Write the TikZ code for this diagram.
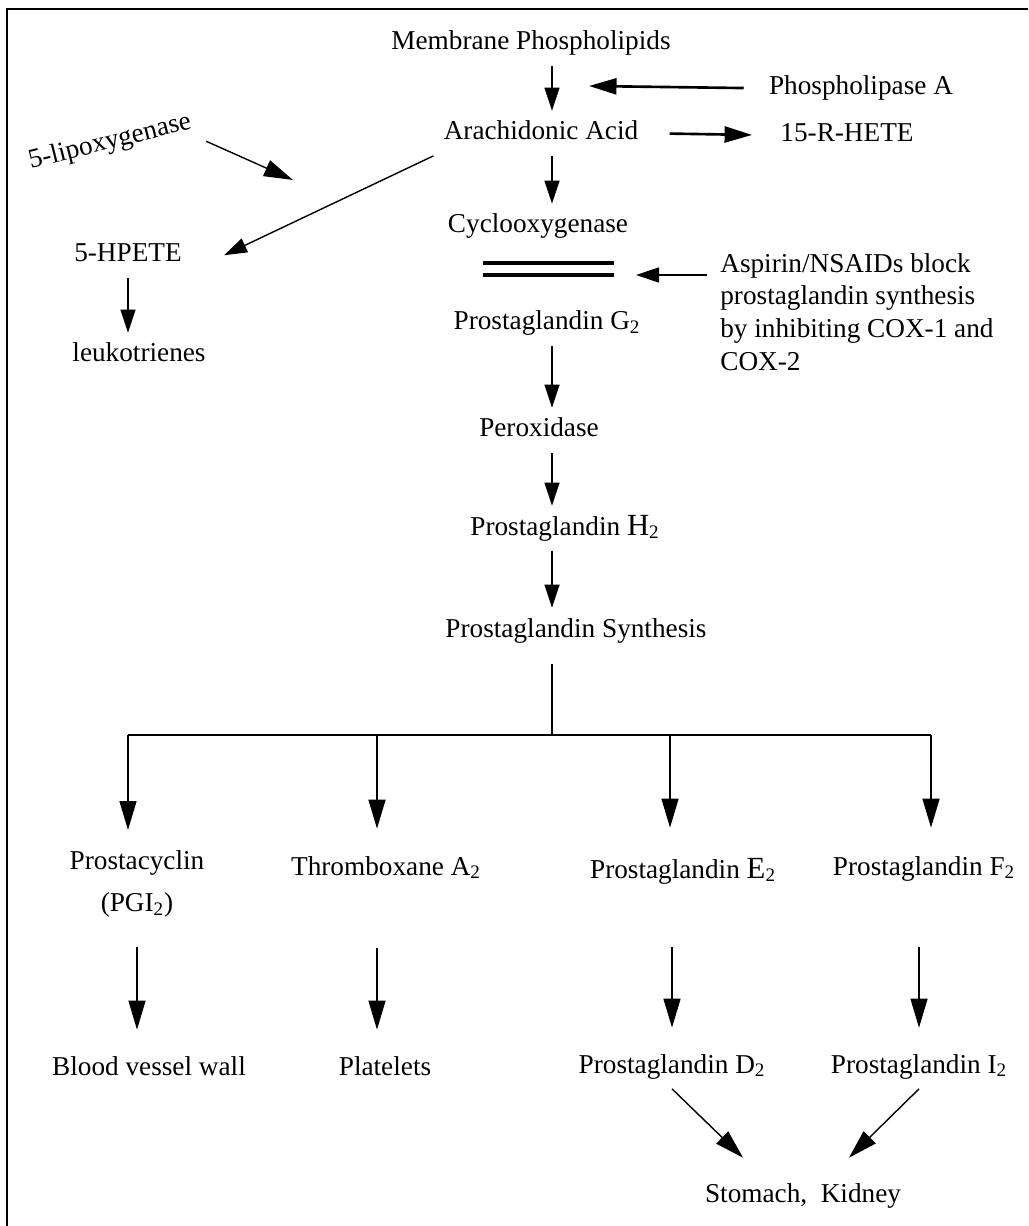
\documentclass[tikz,border=0pt]{standalone}
\usepackage{fontspec}
\setmainfont{Liberation Serif}
\usetikzlibrary{arrows.meta}

\tikzset{
  lbl/.style={font=\fontsize{15.5}{18.6}\selectfont, anchor=base, inner xsep=0.2cm, inner ysep=0.2cm, text height=0.38cm, text depth=0.11cm},
  note/.style={font=\fontsize{15.5}{18.6}\selectfont, anchor=north west, inner sep=0pt, align=left},
  twoline/.style={font=\fontsize{15.5}{18.6}\selectfont, anchor=north, inner sep=0.2cm, align=center},
  big/.style={-{Triangle[length=0.58cm,width=0.34cm]}},
  heavy/.style={line width=1.5pt, -{Triangle[length=0.55cm,width=0.32cm]}},
}

\begin{document}
\begin{tikzpicture}[>={Triangle[length=0.46cm,width=0.3cm]}]
\useasboundingbox (0,0) rectangle (20.56,-24.52);
\draw[line width=1.1pt] (0.14,-24.52) |- (20.56,-0.18);

% main chain
\node[lbl] (mp) at (10.62,-1.00) {Membrane Phospholipids};
\node[lbl] (pla) at (17.22,-1.90) {Phospholipase A};
\node[lbl] (aa) at (10.82,-2.80) {Arachidonic Acid};
\node[lbl] (hete) at (16.94,-2.84) {15-R-HETE};
\node[lbl, anchor=center, rotate=14] (lox) at (2.20,-2.84) {5-lipoxygenase};
\node[lbl] (hpete) at (2.56,-5.24) {5-HPETE};
\node[lbl] (lt) at (2.78,-7.24) {leukotrienes};
\node[lbl] (cox) at (10.76,-4.66) {Cyclooxygenase};
\node[note] (asp) at (14.40,-5.06) {Aspirin/NSAIDs block\\prostaglandin synthesis\\by inhibiting COX-1 and\\COX-2};
\node[lbl] (pgg) at (10.94,-6.60) {Prostaglandin G\textsubscript{2}};
\node[lbl] (perox) at (10.78,-8.74) {Peroxidase};
\node[lbl] (pgh) at (11.30,-10.70) {Prostaglandin {\fontsize{17.5}{18}\selectfont H}\textsubscript{2}};
\node[lbl] (pgs) at (11.52,-12.74) {Prostaglandin Synthesis};

% products
\node[twoline] (pc) at (2.74,-16.80) {Prostacyclin\\[0.2cm](PGI\textsubscript{2})};
\node[lbl] (tx) at (7.72,-17.50) {Thromboxane A\textsubscript{2}};
\node[lbl] (pge) at (13.66,-17.56) {Prostaglandin {\fontsize{17.5}{18}\selectfont E}\textsubscript{2}};
\node[lbl] (pgf) at (18.48,-17.50) {Prostaglandin F\textsubscript{2}};
\node[lbl] (bvw) at (2.98,-21.50) {Blood vessel wall};
\node[lbl] (pl) at (7.70,-21.50) {Platelets};
\node[lbl] (pgd) at (13.44,-21.46) {Prostaglandin D\textsubscript{2}};
\node[lbl] (pgi) at (18.38,-21.46) {Prostaglandin I\textsubscript{2}};
\node[lbl] (sk) at (16.06,-24.04) {Stomach,\ \ Kidney};

\coordinate (spine) at (11.04,0);
\coordinate (plahit) at (11.78,-1.72);
\coordinate (loxhit) at (5.86,-3.60);
\coordinate (blk) at (12.72,-5.50);
\coordinate (hub) at (11.04,-14.70);
\coordinate (br1) at (2.56,-14.70);
\coordinate (br2) at (7.54,-14.70);
\coordinate (br3) at (13.40,-14.70);
\coordinate (br4) at (18.62,-14.70);

\draw[->, thick] (mp.south -| spine) -- (aa.north -| spine);
\draw[heavy, shorten <=0.3cm] (pla.west) -- (plahit);
\draw[heavy, shorten <=0.42cm, shorten >=0.36cm] (aa.east) -- (hete.west);
\draw[->, thick] (aa.south west) -- ([xshift=0.64cm]hpete.east);
\draw[big, thick] (lox.south east) -- (loxhit);
\draw[->, thick] (hpete.south) -- (lt.north -| hpete.south);
\draw[->, thick] (aa.south -| spine) -- (cox.north -| spine);

% block by aspirin
\draw[line width=2.3pt] (9.66,-5.26) -- (12.28,-5.26) (9.66,-5.50) -- (12.28,-5.50);
\draw[->, thick, shorten <=0.26cm] (asp.west |- blk) -- (blk);

\draw[->, thick] (pgg.south -| spine) -- (perox.north -| spine);
\draw[->, thick] (perox.south -| spine) -- (pgh.north -| spine);
\draw[->, thick] (pgh.south -| spine) -- (pgs.north -| spine);

% branches
\draw[thick, shorten <=0.22cm] (pgs.south -| spine) -- (hub);
\draw[thick] (br1) -- (br4);
\draw[big, thick, shorten >=0.2cm] (br1) -- (pc.north -| br1);
\draw[big, thick, shorten >=0.34cm] (br2) -- (tx.north -| br2);
\draw[big, thick, shorten >=0.42cm] (br3) -- (pge.north -| br3);
\draw[big, thick, shorten >=0.36cm] (br4) -- (pgf.north -| br4);

\draw[big, thick, shorten <=0.38cm, shorten >=0.32cm] (pc.south) -- (bvw.north -| pc.south);
\draw[big, thick, shorten <=1.15cm, shorten >=0.32cm] (tx.south -| br2) -- (pl.north -| br2);
\draw[big, thick, shorten <=1.07cm, shorten >=0.32cm] (pge.south -| pgd.north) -- (pgd.north);
\draw[big, thick, shorten <=1.13cm, shorten >=0.32cm] (pgf.south -| pgi.north) -- (pgi.north);

\draw[big, thick] (pgd.south) -- ([xshift=-1.2cm,yshift=0.3cm]sk.north);
\draw[big, thick] (pgi.south) -- ([xshift=0.92cm,yshift=0.3cm]sk.north);
\end{tikzpicture}
\end{document}
